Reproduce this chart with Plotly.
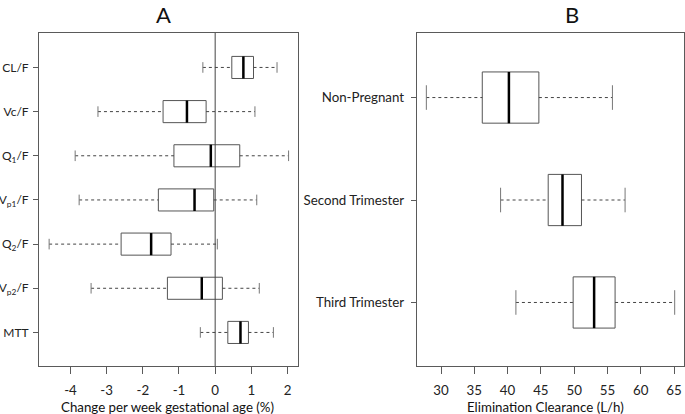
import plotly.graph_objects as go

# ---------------- Data ----------------
params_a = ["CL/F", "Vc/F", "Q<sub>1</sub>/F", "V<sub>p1</sub>/F", "Q<sub>2</sub>/F", "V<sub>p2</sub>/F", "MTT"]
a_low = [-0.34, -3.24, -3.87, -3.76, -4.59, -3.43, -0.41]
a_q1 = [0.46, -1.44, -1.14, -1.57, -2.60, -1.32, 0.35]
a_med = [0.78, -0.78, -0.12, -0.57, -1.77, -0.37, 0.70]
a_q3 = [1.06, -0.25, 0.68, -0.04, -1.22, 0.20, 0.92]
a_high = [1.71, 1.10, 2.03, 1.15, 0.06, 1.22, 1.61]
a_ticks = [-4, -3, -2, -1, 0, 1, 2]

groups_b = ["Non-Pregnant", "Second Trimester", "Third Trimester"]
b_low = [27.8, 38.95, 41.25]
b_q1 = [36.2, 46.1, 49.85]
b_med = [40.2, 48.25, 53.0]
b_q3 = [44.7, 51.1, 56.15]
b_high = [55.75, 57.65, 65.1]
b_ticks = [30, 35, 40, 45, 50, 55, 60, 65]

FONT = "Lato, 'Open Sans', sans-serif"
BOXC = "#555555"
FRAME = "#5a5a5a"
BOXW = 0.5
CAP = 0.12
FS = 13.3

fig = go.Figure()


def add_panel(labels, low, q1, med, q3, high, xa, ya):
    pos = list(range(len(labels)))
    fig.add_trace(go.Box(
        orientation="h", y=pos, q1=q1, median=med, q3=q3,
        lowerfence=q1, upperfence=q3, width=BOXW, whiskerwidth=0,
        fillcolor="white", line=dict(color=BOXC, width=1),
        xaxis=xa, yaxis=ya, showlegend=False, hoverinfo="skip",
    ))
    wx, wy, cx, cy, mx, my = [], [], [], [], [], []
    for i in pos:
        wx += [low[i], q1[i], None, q3[i], high[i], None]
        wy += [i, i, None, i, i, None]
        cx += [low[i], low[i], None, high[i], high[i], None]
        cy += [i - CAP, i + CAP, None, i - CAP, i + CAP, None]
        mx += [med[i], med[i], None]
        my += [i - BOXW / 2, i + BOXW / 2, None]
    fig.add_trace(go.Scatter(x=wx, y=wy, mode="lines", line=dict(color="#444444", width=1, dash="dot"),
                             xaxis=xa, yaxis=ya, showlegend=False, hoverinfo="skip"))
    fig.add_trace(go.Scatter(x=cx, y=cy, mode="lines", line=dict(color="#777777", width=1),
                             xaxis=xa, yaxis=ya, showlegend=False, hoverinfo="skip"))
    fig.add_trace(go.Scatter(x=mx, y=my, mode="lines", line=dict(color="black", width=2.5),
                             xaxis=xa, yaxis=ya, showlegend=False, hoverinfo="skip"))


add_panel(params_a, a_low, a_q1, a_med, a_q3, a_high, "x", "y")
add_panel(groups_b, b_low, b_q1, b_med, b_q3, b_high, "x2", "y2")

W, H = 685, 414
ydom = [1 - 366 / H, 1 - 33 / H]

common_x = dict(showline=True, linecolor=FRAME, linewidth=1, mirror=True, ticks="outside",
                ticklen=7, tickcolor=FRAME, showgrid=False, zeroline=False, automargin=False,
                tickfont=dict(size=FS, color="#222"), ticklabelstandoff=5)
common_y = dict(showline=True, linecolor=FRAME, linewidth=1, mirror=True, ticks="outside",
                ticklen=5, tickcolor=FRAME, showgrid=False, zeroline=False, automargin=False)


def label(text, x, y, size):
    return dict(text=text, x=x / W, y=1 - y / H, xref="paper", yref="paper", showarrow=False,
                xanchor="center", yanchor="middle", font=dict(size=size, color="#111"))


fig.update_layout(
    width=W, height=H, margin=dict(l=0, r=0, t=0, b=0),
    paper_bgcolor="white", plot_bgcolor="white",
    font=dict(family=FONT, color="#222"),
    xaxis=dict(common_x, domain=[39 / W, 298 / W], range=[-4.87, 2.29], tickvals=a_ticks,
               ticktext=[str(t) for t in a_ticks], anchor="y"),
    yaxis=dict(common_y, domain=ydom, range=[6.76, -0.78], tickvals=list(range(len(params_a))),
               ticktext=params_a, anchor="x", ticklabelstandoff=2,
               tickfont=dict(size=12, color="#222")),
    xaxis2=dict(common_x, domain=[416.7 / W, 684 / W], range=[26.35, 66.5], tickvals=b_ticks,
                anchor="y2"),
    yaxis2=dict(common_y, domain=ydom, range=[2.62, -0.63], tickvals=list(range(len(groups_b))),
                ticktext=groups_b, anchor="x2", ticklabelstandoff=4,
                tickfont=dict(size=FS, color="#222")),
    shapes=[dict(type="line", xref="x", yref="y domain", x0=0, x1=0, y0=0, y1=1,
                 line=dict(color="#444444", width=1))],
    annotations=[
        label("A", 163, 14, 22),
        label("B", 572, 14, 22),
        label("Change per week gestational age (%)", 167.5, 407, FS),
        label("Elimination Clearance (L/h)", 545, 407, FS),
    ],
)

fig.write_html("out.html", config={"displayModeBar": False},
               post_script="document.body.style.margin='0';document.body.style.padding='0';")
